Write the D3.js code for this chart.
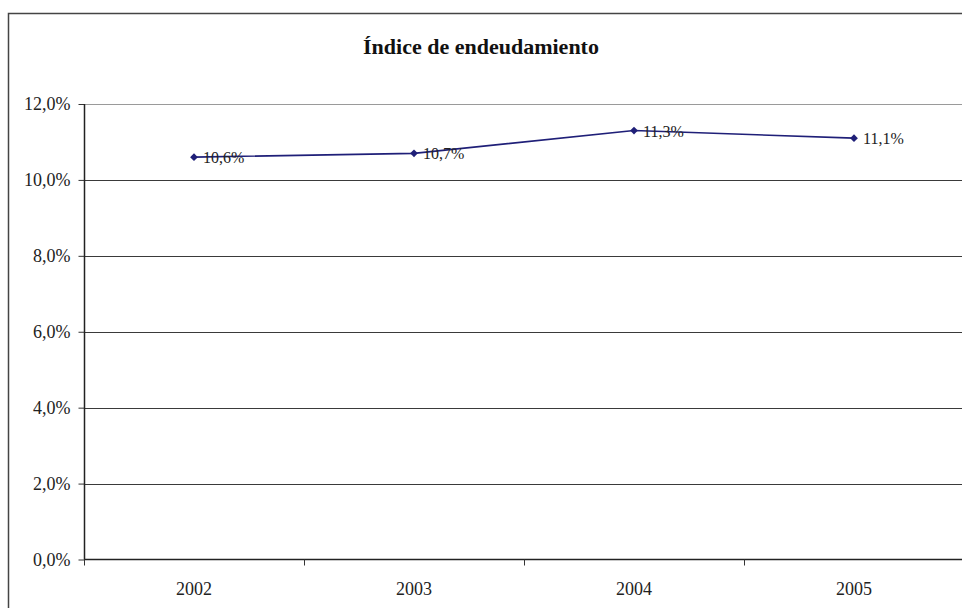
<!DOCTYPE html>
<html>
<head>
<meta charset="utf-8">
<script src="https://cdn.jsdelivr.net/npm/d3@7"></script>
<style>
  body { margin: 0; background: #fff; }
  svg { display: block; font-family: "Liberation Serif", "Times New Roman", serif; }
</style>
</head>
<body>
<div id="container"></div>
<script>
'use strict';

const w = 962;
const h = 608;

// Data.
const years = ['2002', '2003', '2004', '2005'];
const values = [10.6, 10.7, 11.3, 11.1];
const yTicks = [0, 2, 4, 6, 8, 10, 12];
const title = 'Índice de endeudamiento';

const plot = { left: 84, right: 964, top: 104, bottom: 559.5 };

const svg = d3.select('#container')
    .append('svg')
    .attr('width', w)
    .attr('height', h);

// Chart border.
svg.append('rect')
    .attr('x', 8.5)
    .attr('y', 13.5)
    .attr('width', w + 10)
    .attr('height', h + 10)
    .attr('fill', '#fff')
    .attr('stroke', '#444')
    .attr('stroke-width', 1.5);

svg.append('text')
    .attr('x', 481)
    .attr('y', 54)
    .attr('text-anchor', 'middle')
    .attr('font-size', 22)
    .attr('font-weight', 'bold')
    .attr('fill', '#111')
    .text(title);

// Scales.
const xScale = d3.scaleBand()
    .domain(years)
    .range([plot.left, plot.right]);
const yScale = d3.scaleLinear()
    .domain([0, 12])
    .range([plot.bottom, plot.top]);

// Gridlines.
svg.append('g')
    .selectAll('line')
    .data(yTicks.filter(t => t > 0))
    .enter()
    .append('line')
    .attr('x1', plot.left)
    .attr('x2', w)
    .attr('y1', d => Math.round(yScale(d)) + 0.5)
    .attr('y2', d => Math.round(yScale(d)) + 0.5)
    .attr('stroke', d => d === 12 ? '#9a9a9a' : '#3a3a3a')
    .attr('stroke-width', 1.2);

// y-axis.
const yAxis = d3.axisLeft(yScale)
    .tickValues(yTicks)
    .tickSize(6)
    .tickPadding(8)
    .tickFormat(d => d3.format('.1f')(d).replace('.', ',') + '%');
const yg = svg.append('g')
    .attr('transform', 'translate(' + (plot.left + 0.5) + ', 0)')
    .call(yAxis);
yg.select('.domain').remove();
yg.append('line')
    .attr('x1', 0).attr('x2', 0)
    .attr('y1', plot.top).attr('y2', plot.bottom)
    .attr('stroke', '#222').attr('stroke-width', 1.5);
yg.selectAll('.tick line').attr('stroke', '#333');
yg.selectAll('.tick text')
    .attr('font-family', '"Liberation Serif", serif')
    .attr('font-size', 18)
    .attr('fill', '#222');

// x-axis.
const xg = svg.append('g')
    .attr('transform', 'translate(0, ' + plot.bottom + ')');
xg.append('line')
    .attr('x1', plot.left).attr('x2', w)
    .attr('y1', 0).attr('y2', 0)
    .attr('stroke', '#222').attr('stroke-width', 1.5);
xg.selectAll('line.tick')
    .data(years)
    .enter()
    .append('line')
    .attr('class', 'tick')
    .attr('x1', d => xScale(d) + 0.5)
    .attr('x2', d => xScale(d) + 0.5)
    .attr('y1', 0)
    .attr('y2', 6)
    .attr('stroke', '#333');
xg.selectAll('text')
    .data(years)
    .enter()
    .append('text')
    .attr('x', d => xScale(d) + xScale.bandwidth() / 2)
    .attr('y', 35)
    .attr('text-anchor', 'middle')
    .attr('font-size', 18)
    .attr('fill', '#222')
    .text(d => d);

// Line series.
const points = years.map((y, i) => ({ year: y, value: values[i] }));
const cx = d => xScale(d.year) + xScale.bandwidth() / 2;

svg.append('path')
    .datum(points)
    .attr('fill', 'none')
    .attr('stroke', '#1f1f78')
    .attr('stroke-width', 1.6)
    .attr('d', d3.line().x(cx).y(d => yScale(d.value)));

svg.selectAll('.marker')
    .data(points)
    .enter()
    .append('path')
    .attr('class', 'marker')
    .attr('d', d3.symbol(d3.symbolSquare, 30))
    .attr('transform', d => 'translate(' + cx(d) + ',' + yScale(d.value) + ') rotate(45)')
    .attr('fill', '#1f1f78');

svg.selectAll('.label')
    .data(points)
    .enter()
    .append('text')
    .attr('class', 'label')
    .attr('x', d => cx(d) + 9)
    .attr('y', d => yScale(d.value) + 6)
    .attr('font-size', 16)
    .attr('fill', '#222')
    .text(d => String(d.value).replace('.', ',') + '%');
</script>
</body>
</html>
